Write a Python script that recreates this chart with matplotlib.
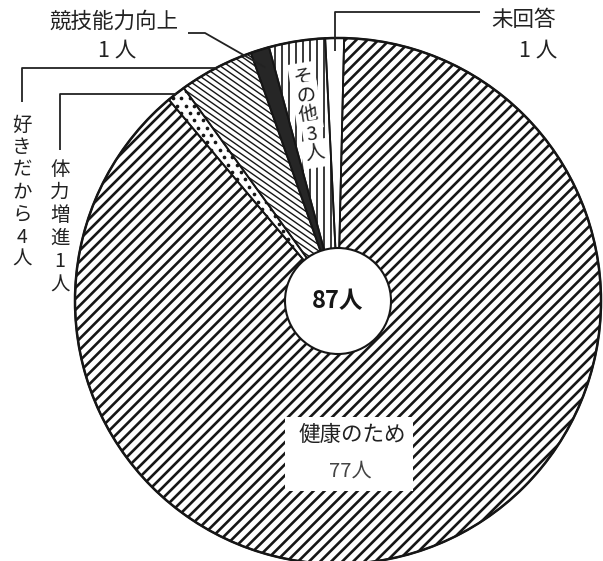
import numpy as np
import matplotlib
matplotlib.use('Agg')
import matplotlib.pyplot as plt
from matplotlib.collections import LineCollection
from matplotlib.patches import Wedge, Circle, Rectangle

plt.rcParams['font.family'] = ['Noto Sans CJK JP', 'DejaVu Sans']

# ---- data ----
categories = ['未回答', '健康のため', '体力増進', '好きだから', '競技能力向上', 'その他']
counts = [1, 77, 1, 4, 1, 3]
total_label = '87人'
face_colors = ['white', 'white', 'white', 'white', '#262626', 'white']

W, H = 603, 561
fig = plt.figure(figsize=(W / 100, H / 100), dpi=100)
ax = fig.add_axes([0, 0, 1, 1])


def P(x, y):
    """picture pixel coords (y down) -> data coords (y up)"""
    return (x, H - y)


R = 263
center = P(338, 301)
INK = '#161616'

wedges, _ = ax.pie(counts, colors=face_colors, startangle=92.8, counterclock=False,
                   radius=R, center=center,
                   wedgeprops=dict(linewidth=0, edgecolor='none', zorder=1))
ax.set_xlim(0, W)
ax.set_ylim(0, H)
ax.set_aspect('equal')
ax.axis('off')


def hatch(w, angle, spacing, lw):
    a = np.radians(angle)
    d = np.array([np.cos(a), np.sin(a)])
    n = np.array([-np.sin(a), np.cos(a)])
    c = np.array(center)
    L = R * 1.3
    m = int(L / spacing) + 2
    segs = [[c + k * spacing * n - L * d, c + k * spacing * n + L * d] for k in range(-m, m + 1)]
    lc = LineCollection(segs, colors=INK, linewidths=lw, zorder=2)
    ax.add_collection(lc)
    lc.set_clip_path(w)


def dots(w, spacing, size):
    pts = []
    rows = np.arange(center[1] - R, center[1] + R, spacing * 0.87)
    for j, y in enumerate(rows):
        off = (spacing / 2) if j % 2 else 0
        for x in np.arange(center[0] - R + off, center[0] + R, spacing):
            pts.append((x, y))
    pts = np.array(pts)
    sc = ax.scatter(pts[:, 0], pts[:, 1], s=size, c=INK, linewidths=0, zorder=2)
    sc.set_clip_path(w)


w_none, w_health, w_fit, w_like, w_comp, w_other = wedges
hatch(w_health, 45, 7.8, 1.9)
hatch(w_like, -35, 5.0, 1.0)
hatch(w_other, 90, 7.0, 1.2)
dots(w_fit, 8.5, 7)

for w in wedges:
    ax.add_patch(Wedge(w.center, w.r, w.theta1, w.theta2, fill=False,
                       ec=INK, lw=1.3, zorder=3))
ax.add_patch(Circle(center, R, fill=False, ec=INK, lw=1.8, zorder=3))

# center hole
ax.add_patch(Circle(center, 53, fc='white', ec=INK, lw=1.5, zorder=4))
ax.text(center[0], center[1], total_label, ha='center', va='center', fontsize=17,
        fontweight='bold', color=INK, zorder=5)


def mid_point(w, frac):
    a = np.radians((w.theta1 + w.theta2) / 2)
    return (w.center[0] + frac * w.r * np.cos(a), w.center[1] + frac * w.r * np.sin(a)), np.degrees(a)


lead = dict(color='#222222', lw=1.3, zorder=6, solid_capstyle='butt')
fs = 15.5

# 健康のため label
ax.add_patch(Rectangle(P(285, 491), 128, 74, fc='white', ec='none', zorder=4))
ax.text(*P(352, 435), categories[1], ha='center', va='center', fontsize=fs, color='#222', zorder=5)
ax.text(*P(350, 471), f'{counts[1]}人', ha='center', va='center', fontsize=fs - 1, color='#444', zorder=5)

# 未回答
(px, py), _ = mid_point(w_none, 0.95)
ax.plot([px, px, 480], [py, H - 12, H - 12], **lead)
ax.text(*P(524, 20), categories[0], ha='center', va='center', fontsize=fs, color='#222')
ax.text(*P(538, 50), f'{counts[0]} 人', ha='center', va='center', fontsize=fs, color='#222')

# 競技能力向上
(px, py), _ = mid_point(w_comp, 0.93)
ax.plot([188, 205, px], [H - 33, H - 33, py], **lead)
ax.text(*P(114, 22), categories[4], ha='center', va='center', fontsize=fs, color='#222')
ax.text(*P(117, 50), f'{counts[4]} 人', ha='center', va='center', fontsize=fs, color='#222')

# 好きだから (vertical)
(px, py), _ = mid_point(w_like, 1.0)
ax.plot([22, 22, px], [H - 102, py, py], **lead)
for i, ch in enumerate(categories[3] + f'{counts[3]}人'):
    ax.text(*P(22, 125 + i * 22.4), ch, ha='center', va='center', fontsize=14, color='#222')

# 体力増進 (vertical)
(px, py), _ = mid_point(w_fit, 1.0)
ax.plot([60, 60, px], [H - 150, py, py], **lead)
for i, ch in enumerate(categories[2] + f'{counts[2]}人'):
    ax.text(*P(60, 169 + i * 23.2), ch, ha='center', va='center', fontsize=14, color='#222')

# その他 (inside the slice, radial column)
a = np.radians((w_other.theta1 + w_other.theta2) / 2)
rot = np.degrees(a) - 90
for i, ch in enumerate(categories[5] + f'{counts[5]}人'):
    r = 227 - i * 19.5
    ax.text(center[0] + r * np.cos(a), center[1] + r * np.sin(a), ch, ha='center', va='center',
            rotation=rot, rotation_mode='anchor', fontsize=14, color='#222', zorder=5,
            bbox=dict(fc='white', ec='none', pad=2.5))

fig.savefig('out.png', dpi=100, facecolor='white')
